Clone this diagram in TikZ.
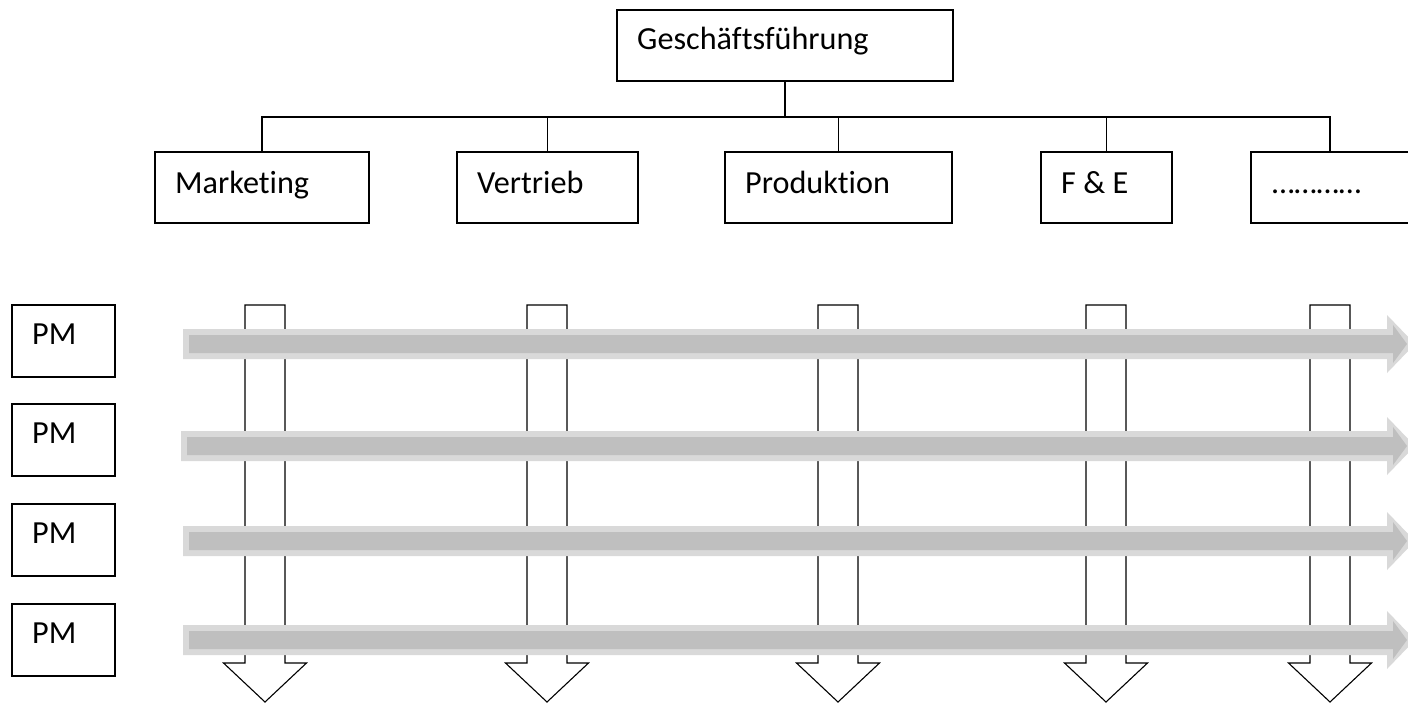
\documentclass[tikz,border=0pt]{standalone}
\usepackage{fontspec}
\setmainfont{Carlito}[Ligatures=NoCommon]
\usetikzlibrary{fit}
\definecolor{bandlight}{HTML}{D9D9D9}
\definecolor{banddark}{HTML}{BFBFBF}
\begin{document}
\begin{tikzpicture}[x=1pt,y=-1pt,
  box/.style={draw, line width=1.2pt, inner sep=0pt},
  lbl/.style={anchor=base west, inner sep=0pt, font=\fontsize{32.2}{38}\selectfont},
  link/.style={line width=1.3pt},
  downarrow/.style={draw, fill=white, line width=1.1pt, line join=miter},
  bandout/.style={fill=bandlight},
  bandin/.style={fill=banddark}]
\useasboundingbox (0,0) rectangle (1408,704);

% management box
\node[box, fit={(617,10) (953,81)}] (gf) {};
\node[lbl] (gft) at (637,49) {Geschäftsführung};

% functional departments
\foreach \l/\r/\n/\t/\tx in {155/369/mkt/Marketing/175, 457/638/vtr/Vertrieb/477,
    725/952/prd/Produktion/745, 1041/1172/fue/F \& E/1061, 1251/1409/etc/…………/1272}{
  \node[box, fit={(\l,152) (\r,223)}] (\n) {};
  \node[lbl] (\n t) at (\tx,193) {\t};
}

% reporting lines
\coordinate (bus) at (785,117);
\draw[link] (gf.south) -- (bus);
\foreach \n in {mkt,vtr,prd,fue,etc}
  \draw[link] (bus) -| (\n.north);

% product managers
\foreach \top/\n in {305/pm1, 404/pm2, 504/pm3, 604/pm4}{
  \node[box, fit={(12,\top) (115,{\top+72})}] (\n) {};
  \node[lbl] (\n t) at (32,{\top+39}) {PM};
}

% vertical function arrows
\foreach \cx in {265,547,838,1106,1330}
  \draw[downarrow] ({\cx-20},305) -- ({\cx+20},305) -- ({\cx+20},663)
    -- ({\cx+41.5},663) -- (\cx,702) -- ({\cx-41.5},663) -- ({\cx-20},663) -- cycle;

% horizontal product arrows
\foreach \c/\sx in {344/183, 446/181, 541/183, 640/183}{
  \fill[bandout] (\sx,{\c-15}) -- (1387,{\c-15}) -- (1387,{\c-29}) -- (1415,\c)
    -- (1387,{\c+29}) -- (1387,{\c+15}) -- (\sx,{\c+15}) -- cycle;
  \fill[bandin] ({\sx+6},{\c-9}) -- (1393,{\c-9}) -- (1393,{\c-19}) -- (1407,\c)
    -- (1393,{\c+19}) -- (1393,{\c+9}) -- ({\sx+6},{\c+9}) -- cycle;
}
\end{tikzpicture}
\end{document}
